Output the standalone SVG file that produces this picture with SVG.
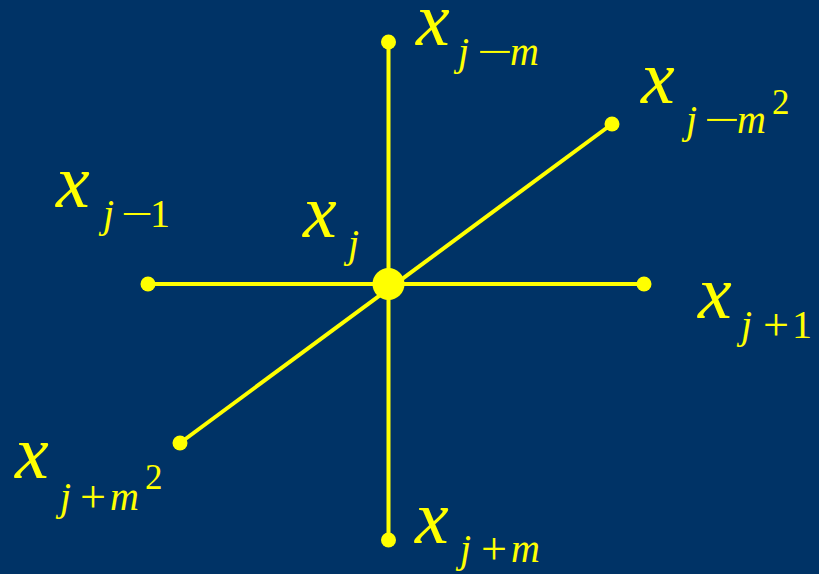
<svg xmlns="http://www.w3.org/2000/svg" width="819" height="574" viewBox="0 0 819 574">
<style>
.ln{stroke:#FFFF00;stroke-width:4;fill:none}
.dot{fill:#FFFF00}
text{fill:#FFFF00;font-family:"Liberation Serif","Times New Roman",serif}
.x{font-size:76px;font-style:italic}
.s{font-size:40px}
.i{font-style:italic}
.op{font-size:46px}
.sup{font-size:35px}
</style>
<rect width="819" height="574" fill="#003366"/>
<g id="connectors">
<line class="ln" x1="388.5" y1="42" x2="388.5" y2="540"/>
<line class="ln" x1="148" y1="284" x2="644" y2="284"/>
<line class="ln" x1="180" y1="443" x2="612" y2="124"/>
</g>
<g id="center"><circle class="dot" cx="388.5" cy="284" r="16"/></g>
<g id="n-top"><circle class="dot" cx="388.5" cy="42" r="7.5"/></g>
<g id="n-bottom"><circle class="dot" cx="388.5" cy="540" r="7.5"/></g>
<g id="n-left"><circle class="dot" cx="148" cy="284" r="7.5"/></g>
<g id="n-right"><circle class="dot" cx="644" cy="284" r="7.5"/></g>
<g id="n-ne"><circle class="dot" cx="612" cy="124" r="7.5"/></g>
<g id="n-sw"><circle class="dot" cx="180" cy="443" r="7.5"/></g>

<g id="label-jm">
<text class="x" x="416" y="45">x</text>
<text class="s i" x="458" y="65">j</text>
<text class="s" x="477" y="65" textLength="36" lengthAdjust="spacingAndGlyphs">−</text>
<text class="s i" x="510" y="65">m</text>
</g>
<g id="label-jm2">
<text class="x" x="641" y="103">x</text>
<text class="s i" x="686" y="133">j</text>
<text class="s" x="704" y="133" textLength="36" lengthAdjust="spacingAndGlyphs">−</text>
<text class="s i" x="737" y="133">m</text>
<text class="sup" x="772" y="114">2</text>
</g>
<g id="label-j-1">
<text class="x" x="56" y="207">x</text>
<text class="s i" x="103" y="227">j</text>
<text class="s" x="121" y="227" textLength="32" lengthAdjust="spacingAndGlyphs">−</text>
<text class="s" x="150" y="227">1</text>
</g>
<g id="label-j">
<text class="x" x="303" y="237">x</text>
<text class="s i" x="348" y="257">j</text>
</g>
<g id="label-j+1">
<text class="x" x="698" y="318">x</text>
<text class="s i" x="741" y="338">j</text>
<text class="op" x="763" y="340">+</text>
<text class="s" x="792" y="338">1</text>
</g>
<g id="label-jm2b">
<text class="x" x="15" y="478">x</text>
<text class="s i" x="60" y="510">j</text>
<text class="op" x="80" y="512">+</text>
<text class="s i" x="110" y="510">m</text>
<text class="sup" x="145" y="489">2</text>
</g>
<g id="label-j+m">
<text class="x" x="415" y="543">x</text>
<text class="s i" x="460" y="562">j</text>
<text class="op" x="481" y="564">+</text>
<text class="s i" x="511" y="562">m</text>
</g>
</svg>
